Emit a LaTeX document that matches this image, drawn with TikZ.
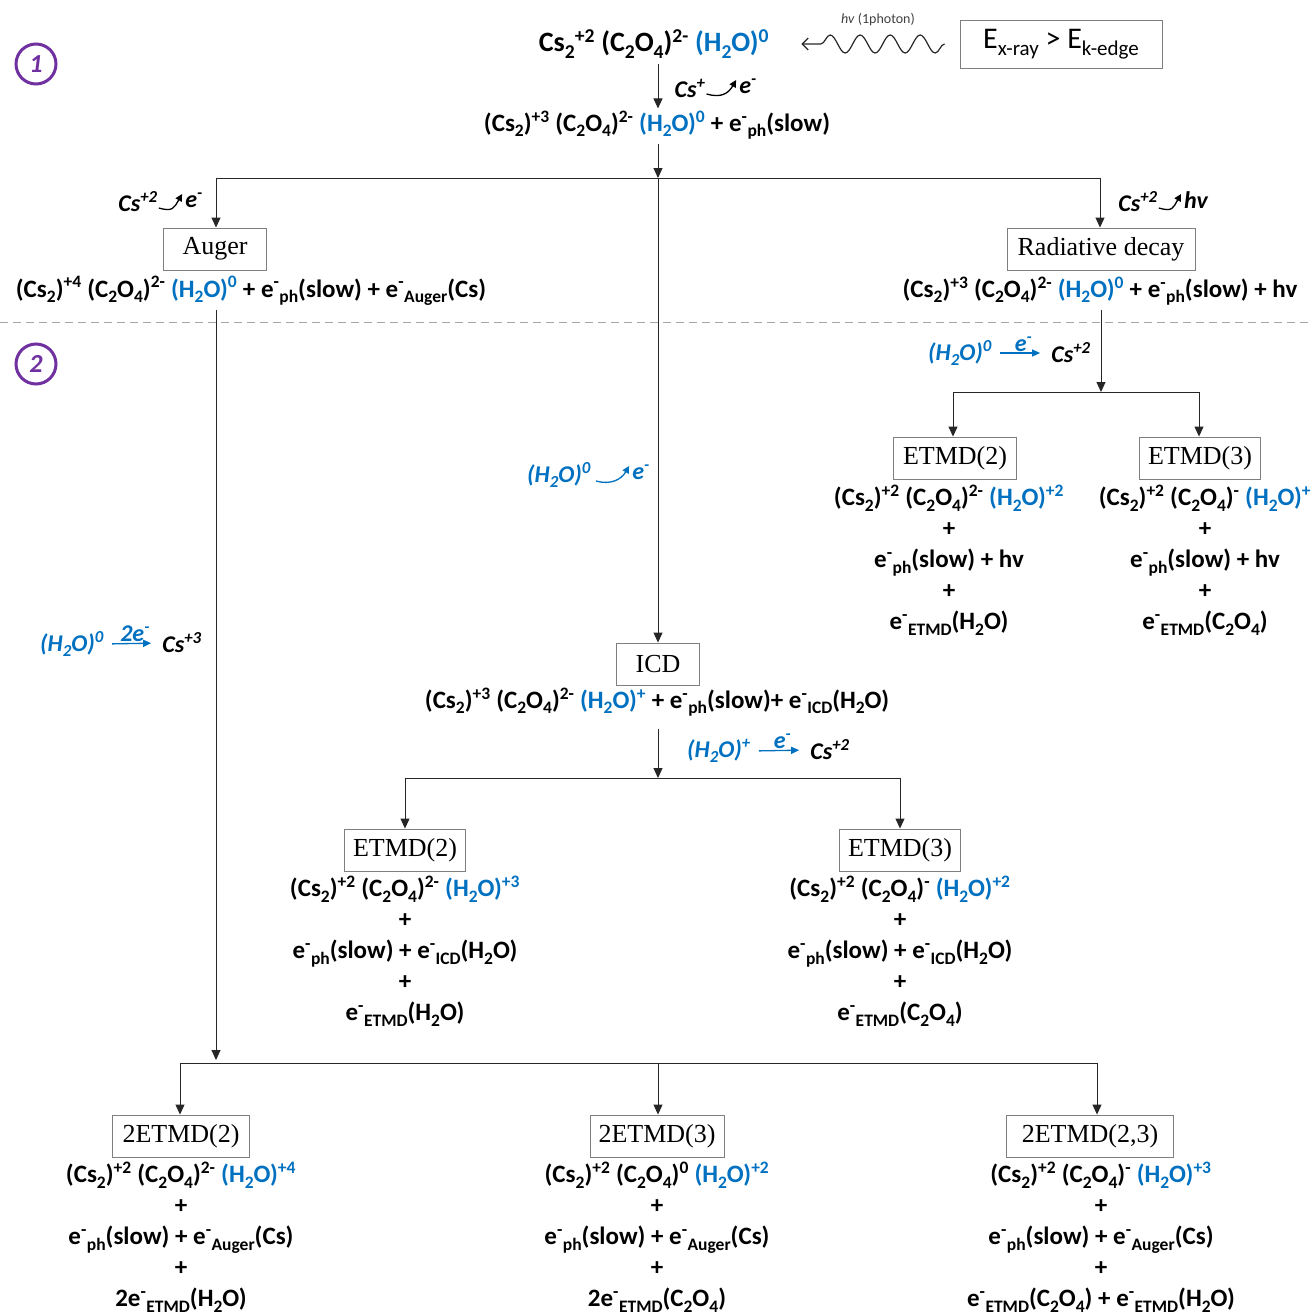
\documentclass[tikz,border=0pt]{standalone}
\usepackage{fontspec}
\usepackage{graphicx}
\setmainfont{Carlito}
\newfontfamily\serifbox{Liberation Serif}
\usetikzlibrary{arrows.meta,decorations.pathmorphing,calc}
\definecolor{wblue}{HTML}{0070C0}
\definecolor{purp}{HTML}{7030A0}
\definecolor{boxgray}{HTML}{7F7F7F}
\newcommand\hi[1]{\textsuperscript{#1}}
\newcommand\lo[1]{\raisebox{-0.22em}{\scalebox{0.7}{#1}}}
\newcommand\wat[1]{\textcolor{wblue}{(H\lo{2}O)\hi{#1}}}
\begin{document}
\begin{tikzpicture}[x=1pt,y=-1pt,
  frm/.style={font=\fontsize{25}{31}\selectfont\bfseries, align=center, inner sep=0pt},
  lbl/.style={font=\fontsize{24}{26}\selectfont\bfseries\itshape, inner sep=1pt},
  blbl/.style={lbl, text=wblue},
  pbox/.style={draw=boxgray, line width=0.9pt, font=\serifbox\fontsize{26}{30}\selectfont, inner sep=2pt, minimum height=42pt},
  conn/.style={line width=1pt, draw=black!85},
  arr/.style={conn, -{Triangle[length=10pt,width=9pt]}},
  swoosh/.style={line width=1.3pt, -{Triangle[length=7pt,width=7pt]}},
  barr/.style={wblue, line width=1.3pt, shorten <=7pt, shorten >=10pt, -{Triangle[length=8pt,width=7pt]}},
  numc/.style={circle, draw=purp, line width=3pt, minimum size=40pt, inner sep=0pt, text=purp, font=\fontsize{26}{30}\selectfont\bfseries\itshape}
]
\useasboundingbox (0,0) rectangle (1312,1315);

% section markers
\node[numc] (n1) at (36,64) {1};
\node[numc] (n2) at (36,364) {2};
\coordinate (dl) at (0,322);
\coordinate (dr) at (1312,322);
\draw[black!35, line width=1pt, dash pattern=on 8pt off 5pt] (dl) -- (dr);

% top
\node[frm, font=\fontsize{28}{31}\selectfont\bfseries] (t0) at (654,44) {Cs\lo{2}\hi{+2} (C\lo{2}O\lo{4})\hi{2-} \wat{0}};
\node[draw=boxgray, line width=0.9pt, font=\fontsize{30}{34}\selectfont, minimum width=202pt, minimum height=48pt, inner sep=2pt] (ebox) at (1061,44) {E\lo{x-ray} > E\lo{k-edge}};
\node[font=\fontsize{14}{16}\selectfont, text=black!75] (hvl) at (878,20) {\textit{hv} (1photon)};
\draw[conn, line width=1.2pt, -{Straight Barb[length=6pt,width=12pt]}, decorate,
  decoration={snake, amplitude=9pt, segment length=30pt, post length=14pt}]
  ($(ebox.west)+(-15,0)$) -- ($(t0.east)+(32,0)$);

\node[frm] (t1) at (657,125) {(Cs\lo{2})\hi{+3} (C\lo{2}O\lo{4})\hi{2-} \wat{0} + e\hi{-}\lo{ph}(slow)};
\coordinate (hub) at (658,178);
\draw[arr, shorten <=6pt, shorten >=2pt] (t0.south -| hub) -- (t1.north -| hub);
\node[lbl] (l1a) at (690,88) {Cs\hi{+}};
\node[lbl] (l1b) at (748,86) {e\hi{-}};
\draw[swoosh] ($(l1a.east)+(0,6)$) .. controls ($(l1a.east)+(14,10)$) and ($(l1b.west)+(-10,8)$) .. ($(l1b.west)+(-2,-6)$);

% first split
\coordinate (hl) at (216,178);
\coordinate (hr) at (1100,178);
\draw[arr, shorten <=4pt] (t1.south -| hub) -- (hub);
\draw[conn] (hl) -- (hr);

\node[pbox, minimum width=103pt] (auger) at (215,249) {Auger};
\node[pbox, minimum width=188pt] (rad) at (1101,249) {Radiative decay};
\draw[arr] (hl) -- (auger.north -| hl);
\draw[arr] (hr) -- (rad.north -| hr);

\node[lbl] (l2a) at (138,202) {Cs\hi{+2}};
\node[lbl] (l2b) at (194,200) {e\hi{-}};
\draw[swoosh] ($(l2a.east)+(0,6)$) .. controls ($(l2a.east)+(14,10)$) and ($(l2b.west)+(-10,8)$) .. ($(l2b.west)+(-2,-6)$);
\node[lbl] (l3a) at (1138,202) {Cs\hi{+2}};
\node[lbl] (l3b) at (1196,200) {hv};
\draw[swoosh] ($(l3a.east)+(0,6)$) .. controls ($(l3a.east)+(14,10)$) and ($(l3b.west)+(-10,8)$) .. ($(l3b.west)+(-2,-6)$);

\node[frm] (fa) at (251,291) {(Cs\lo{2})\hi{+4} (C\lo{2}O\lo{4})\hi{2-} \wat{0} + e\hi{-}\lo{ph}(slow) + e\hi{-}\lo{Auger}(Cs)};
\node[frm] (fr) at (1100,291) {(Cs\lo{2})\hi{+3} (C\lo{2}O\lo{4})\hi{2-} \wat{0} + e\hi{-}\lo{ph}(slow) + hv};

% right branch
\coordinate (hr2) at (1101,392);
\coordinate (hr2l) at (953,392);
\coordinate (hr2r) at (1199,392);
\draw[arr, shorten <=4pt] (fr.south -| hr2) -- (hr2);
\draw[conn] (hr2l) -- (hr2r);
\node[blbl] (w4) at (960,353) {(H\lo{2}O)\hi{0}};
\node[lbl] (c4) at (1071,353) {Cs\hi{+2}};
\draw[barr] (w4.east) -- node[above=0pt, blbl, shift={(2,0)}] {e\hi{-}} (c4.west);

\node[pbox, minimum width=123pt] (r1) at (955,458) {ETMD(2)};
\node[pbox, minimum width=121pt] (r2) at (1200,458) {ETMD(3)};
\draw[arr] (hr2l) -- (r1.north -| hr2l);
\draw[arr] (hr2r) -- (r2.north -| hr2r);
\node[frm] (sr1) at (949,560) {(Cs\lo{2})\hi{+2} (C\lo{2}O\lo{4})\hi{2-} \wat{+2}\\+\\e\hi{-}\lo{ph}(slow) + hv\\+\\e\hi{-}\lo{ETMD}(H\lo{2}O)};
\node[frm] (sr2) at (1205,560) {(Cs\lo{2})\hi{+2} (C\lo{2}O\lo{4})\hi{-} \wat{+}\\+\\e\hi{-}\lo{ph}(slow) + hv\\+\\e\hi{-}\lo{ETMD}(C\lo{2}O\lo{4})};

% middle branch
\node[blbl] (w3) at (559,475) {(H\lo{2}O)\hi{0}};
\node[blbl] (e3) at (641,472) {e\hi{-}};
\draw[swoosh, wblue] ($(w3.east)+(4,6)$) .. controls ($(w3.east)+(18,10)$) and ($(e3.west)+(-10,8)$) .. ($(e3.west)+(-2,-6)$);

\node[pbox, minimum width=83pt] (icd) at (658,664) {ICD};
\draw[arr] (hub) -- (icd.north -| hub);
\node[frm] (fi) at (657,702) {(Cs\lo{2})\hi{+3} (C\lo{2}O\lo{4})\hi{2-} \wat{+} + e\hi{-}\lo{ph}(slow)+ e\hi{-}\lo{ICD}(H\lo{2}O)};

\coordinate (hm) at (658,778);
\coordinate (hml) at (405,778);
\coordinate (hmr) at (900,778);
\draw[arr, shorten <=12pt] (fi.south -| hm) -- (hm);
\draw[conn] (hml) -- (hmr);
\node[blbl] (w5) at (719,751) {(H\lo{2}O)\hi{+}};
\node[lbl] (c5) at (830,750) {Cs\hi{+2}};
\draw[barr] (w5.east) -- node[above=0pt, blbl, shift={(2,0)}] {e\hi{-}} (c5.west);

\node[pbox, minimum width=121pt] (m1) at (405,850) {ETMD(2)};
\node[pbox, minimum width=121pt] (m2) at (900,850) {ETMD(3)};
\draw[arr] (hml) -- (m1.north -| hml);
\draw[arr] (hmr) -- (m2.north -| hmr);
\node[frm] (sm1) at (405,951) {(Cs\lo{2})\hi{+2} (C\lo{2}O\lo{4})\hi{2-} \wat{+3}\\+\\e\hi{-}\lo{ph}(slow) + e\hi{-}\lo{ICD}(H\lo{2}O)\\+\\e\hi{-}\lo{ETMD}(H\lo{2}O)};
\node[frm] (sm2) at (900,951) {(Cs\lo{2})\hi{+2} (C\lo{2}O\lo{4})\hi{-} \wat{+2}\\+\\e\hi{-}\lo{ph}(slow) + e\hi{-}\lo{ICD}(H\lo{2}O)\\+\\e\hi{-}\lo{ETMD}(C\lo{2}O\lo{4})};

% left (Auger) branch
\node[blbl] (w1) at (72,644) {(H\lo{2}O)\hi{0}};
\node[lbl] (c1) at (182,643) {Cs\hi{+3}};
\draw[barr] (w1.east) -- node[above=0pt, blbl, shift={(2,0)}] {2e\hi{-}} (c1.west);

\coordinate (hb) at (216,1063);
\coordinate (hbl) at (180,1063);
\coordinate (hbm) at (658,1063);
\coordinate (hbr) at (1097,1063);
\draw[arr, shorten <=4pt, shorten >=3pt] (fa.south -| hb) -- (hb);
\draw[conn] (hbl) -- (hbr);

\node[pbox, minimum width=137pt] (b1) at (181,1136) {2ETMD(2)};
\node[pbox, minimum width=134pt] (b2) at (657,1136) {2ETMD(3)};
\node[pbox, minimum width=167pt] (b3) at (1090,1136) {2ETMD(2,3)};
\draw[arr] (hbl) -- (b1.north -| hbl);
\draw[arr] (hbm) -- (b2.north -| hbm);
\draw[arr] (hbr) -- (b3.north -| hbr);
\node[frm] (sb1) at (181,1237) {(Cs\lo{2})\hi{+2} (C\lo{2}O\lo{4})\hi{2-} \wat{+4}\\+\\e\hi{-}\lo{ph}(slow) + e\hi{-}\lo{Auger}(Cs)\\+\\2e\hi{-}\lo{ETMD}(H\lo{2}O)};
\node[frm] (sb2) at (657,1237) {(Cs\lo{2})\hi{+2} (C\lo{2}O\lo{4})\hi{0} \wat{+2}\\+\\e\hi{-}\lo{ph}(slow) + e\hi{-}\lo{Auger}(Cs)\\+\\2e\hi{-}\lo{ETMD}(C\lo{2}O\lo{4})};
\node[frm] (sb3) at (1101,1237) {(Cs\lo{2})\hi{+2} (C\lo{2}O\lo{4})\hi{-} \wat{+3}\\+\\e\hi{-}\lo{ph}(slow) + e\hi{-}\lo{Auger}(Cs)\\+\\e\hi{-}\lo{ETMD}(C\lo{2}O\lo{4}) + e\hi{-}\lo{ETMD}(H\lo{2}O)};
\end{tikzpicture}
\end{document}
